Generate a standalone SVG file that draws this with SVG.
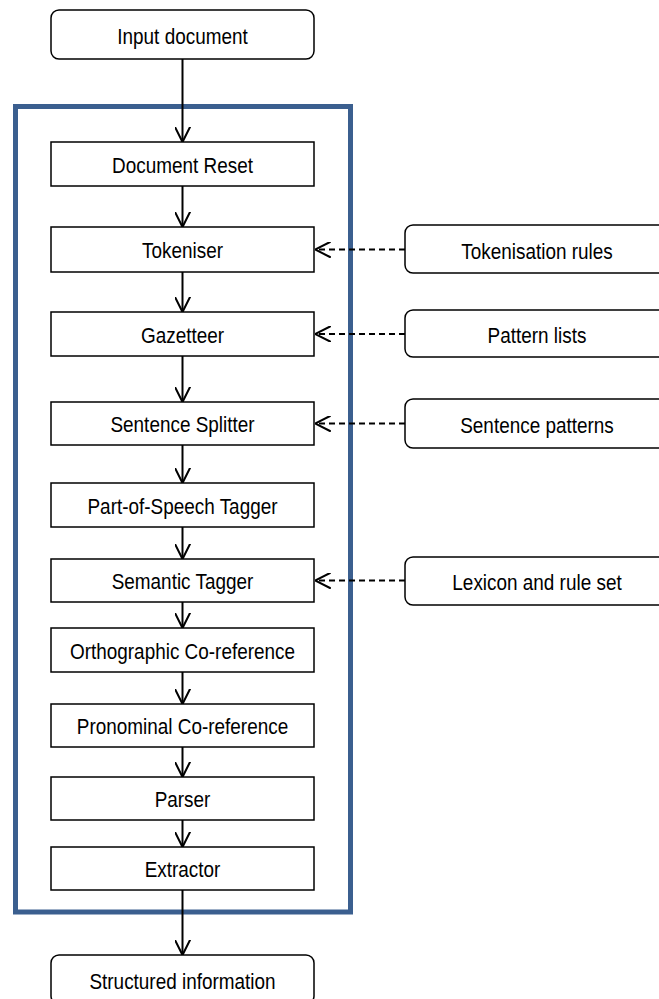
<svg xmlns="http://www.w3.org/2000/svg" width="659" height="999" viewBox="0 0 659 999">
  <style>
    .box { fill: #ffffff; stroke: #000000; stroke-width: 1.5; }
    .frame { fill: none; stroke: #3B5F8F; stroke-width: 5; }
    .label { font-family: "Liberation Sans", Arial, sans-serif; font-size: 21.5px; fill: #000000; text-anchor: middle; }
    .flow { stroke: #000000; stroke-width: 2; fill: none; marker-end: url(#arrow); }
    .dash { stroke: #000000; stroke-width: 2; fill: none; stroke-dasharray: 6 4; marker-end: url(#arrow); }
  </style>
  <defs>
    <marker id="arrow" viewBox="0 0 16 16" refX="15.5" refY="8" markerWidth="16" markerHeight="16" markerUnits="userSpaceOnUse" orient="auto">
      <path d="M0.5,0.5 L15.5,8 L0.5,15.5" fill="none" stroke="#000000" stroke-width="2" stroke-dasharray="none" stroke-linejoin="round" stroke-linecap="round"/>
    </marker>
  </defs>
  <rect width="659" height="999" fill="#ffffff"/>

  <!-- processing pipeline frame -->
  <rect class="frame" x="15.5" y="106.5" width="335" height="805.5"/>

  <!-- connectors -->
  <g id="connectors">
    <line class="flow" x1="182.5" y1="59" x2="182.5" y2="142"/>
    <line class="flow" x1="182.5" y1="186" x2="182.5" y2="227"/>
    <line class="flow" x1="182.5" y1="272" x2="182.5" y2="312"/>
    <line class="flow" x1="182.5" y1="356" x2="182.5" y2="402"/>
    <line class="flow" x1="182.5" y1="445" x2="182.5" y2="483"/>
    <line class="flow" x1="182.5" y1="527" x2="182.5" y2="559"/>
    <line class="flow" x1="182.5" y1="602" x2="182.5" y2="628"/>
    <line class="flow" x1="182.5" y1="672" x2="182.5" y2="704"/>
    <line class="flow" x1="182.5" y1="747" x2="182.5" y2="777"/>
    <line class="flow" x1="182.5" y1="820" x2="182.5" y2="847"/>
    <line class="flow" x1="182.5" y1="890" x2="182.5" y2="955"/>
    <line class="dash" x1="405" y1="249.5" x2="315" y2="249.5"/>
    <line class="dash" x1="405" y1="334" x2="315" y2="334"/>
    <line class="dash" x1="405" y1="423.5" x2="315" y2="423.5"/>
    <line class="dash" x1="405" y1="580.5" x2="315" y2="580.5"/>
  </g>

  <!-- input and output -->
  <g id="input-document">
    <rect class="box" x="51" y="10" width="263" height="49" rx="8"/>
    <text class="label" transform="translate(182.5,44) scale(0.88,1)">Input document</text>
  </g>
  <g id="structured-information">
    <rect class="box" x="51" y="955" width="263" height="49" rx="8"/>
    <text class="label" transform="translate(182.5,989) scale(0.88,1)">Structured information</text>
  </g>

  <!-- pipeline stages -->
  <g id="document-reset">
    <rect class="box" x="51" y="142" width="263" height="44"/>
    <text class="label" transform="translate(182.5,172.7) scale(0.88,1)">Document Reset</text>
  </g>
  <g id="tokeniser">
    <rect class="box" x="51" y="227" width="263" height="45"/>
    <text class="label" transform="translate(182.5,258.2) scale(0.88,1)">Tokeniser</text>
  </g>
  <g id="gazetteer">
    <rect class="box" x="51" y="312" width="263" height="44"/>
    <text class="label" transform="translate(182.5,342.7) scale(0.88,1)">Gazetteer</text>
  </g>
  <g id="sentence-splitter">
    <rect class="box" x="51" y="402" width="263" height="43"/>
    <text class="label" transform="translate(182.5,432.2) scale(0.88,1)">Sentence Splitter</text>
  </g>
  <g id="pos-tagger">
    <rect class="box" x="51" y="483" width="263" height="44"/>
    <text class="label" transform="translate(182.5,513.7) scale(0.88,1)">Part-of-Speech Tagger</text>
  </g>
  <g id="semantic-tagger">
    <rect class="box" x="51" y="559" width="263" height="43"/>
    <text class="label" transform="translate(182.5,589.2) scale(0.88,1)">Semantic Tagger</text>
  </g>
  <g id="orthographic-coreference">
    <rect class="box" x="51" y="628" width="263" height="44"/>
    <text class="label" transform="translate(182.5,658.5) scale(0.88,1)">Orthographic Co-reference</text>
  </g>
  <g id="pronominal-coreference">
    <rect class="box" x="51" y="704" width="263" height="43"/>
    <text class="label" transform="translate(182.5,734.2) scale(0.88,1)">Pronominal Co-reference</text>
  </g>
  <g id="parser">
    <rect class="box" x="51" y="777" width="263" height="43"/>
    <text class="label" transform="translate(182.5,807.2) scale(0.88,1)">Parser</text>
  </g>
  <g id="extractor">
    <rect class="box" x="51" y="847" width="263" height="43"/>
    <text class="label" transform="translate(182.5,877.2) scale(0.88,1)">Extractor</text>
  </g>

  <!-- resources -->
  <g id="tokenisation-rules">
    <rect class="box" x="405" y="225" width="264" height="48" rx="8"/>
    <text class="label" transform="translate(537,258.5) scale(0.88,1)">Tokenisation rules</text>
  </g>
  <g id="pattern-lists">
    <rect class="box" x="405" y="310" width="264" height="47" rx="8"/>
    <text class="label" transform="translate(537,343) scale(0.88,1)">Pattern lists</text>
  </g>
  <g id="sentence-patterns">
    <rect class="box" x="405" y="399" width="264" height="49" rx="8"/>
    <text class="label" transform="translate(537,432.5) scale(0.88,1)">Sentence patterns</text>
  </g>
  <g id="lexicon-rule-set">
    <rect class="box" x="405" y="557" width="264" height="48" rx="8"/>
    <text class="label" transform="translate(537,590) scale(0.88,1)">Lexicon and rule set</text>
  </g>
</svg>
